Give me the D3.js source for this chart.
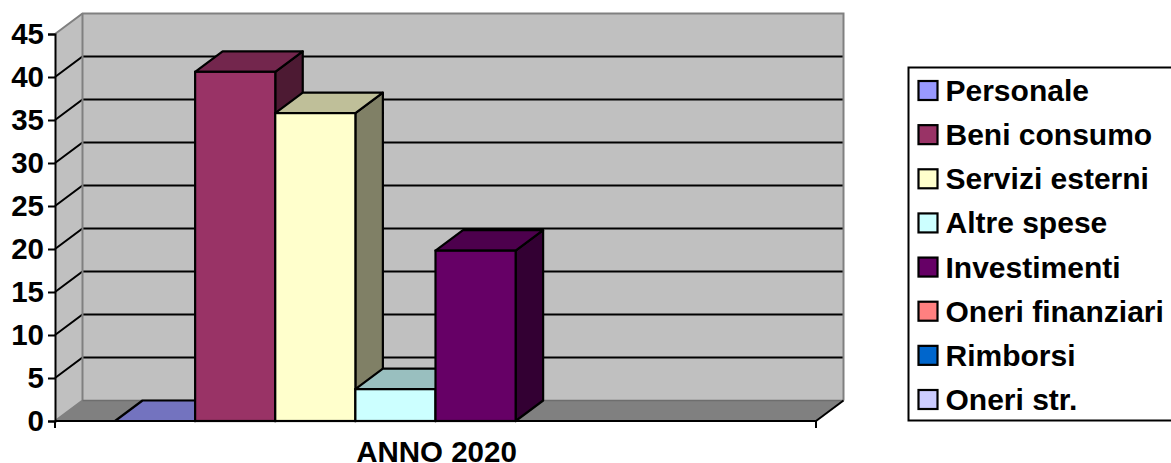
<!DOCTYPE html>
<html><head><meta charset="utf-8">
<script src="https://cdn.jsdelivr.net/npm/d3@7/dist/d3.min.js"></script>
<style>html,body{margin:0;padding:0;background:#fff}svg{display:block}text{font-family:"Liberation Sans",Arial,sans-serif;font-weight:bold;fill:#000}</style>
</head><body><svg id="c" width="1171" height="463"></svg>
<script>
const seriesNames=["Personale","Beni consumo","Servizi esterni","Altre spese","Investimenti","Oneri finanziari","Rimborsi","Oneri str."];
const seriesValues=[0,40.6,35.8,3.7,19.8,null,null,null];
const seriesColors=["#9999ff","#993366","#ffffcc","#ccffff","#660066","#ff8080","#0066cc","#ccccff"];
const categories=["ANNO 2020"];
const yTicks=[0,5,10,15,20,25,30,35,40,45];

const svg=d3.select("#c");
const depthX=27.5, depthY=-20.5;
const y=d3.scaleLinear().domain([0,45]).range([421,34]);
const x0=d3.scaleBand().domain(categories).range([55,816]);
const x1=d3.scalePoint().domain(d3.range(seriesNames.length+1)).range([115,756]);
const wallLeft=x0.range()[0], wallRight=x0.range()[1];
const poly=(pts)=>d3.line()(pts);
const X=(xv,d)=>xv+d*depthX, Y=(yv,d)=>yv+d*depthY;

svg.append("path").attr("d",poly([[wallLeft,y(0)],[wallLeft,y(45)],[X(wallLeft,1),Y(y(45),1)],[X(wallLeft,1),Y(y(0),1)]])+"Z").attr("fill","#c0c0c0");
svg.append("rect").attr("x",X(wallLeft,1)).attr("y",Y(y(45),1)).attr("width",wallRight-wallLeft).attr("height",y(0)-y(45)).attr("fill","#c0c0c0");
svg.append("path").attr("d",poly([[wallLeft,y(0)],[wallRight,y(0)],[X(wallRight,1),Y(y(0),1)],[X(wallLeft,1),Y(y(0),1)]])+"Z").attr("fill","#808080");
yTicks.filter(t=>t>0&&t<45).forEach(t=>{
  svg.append("path").attr("d",poly([[wallLeft,y(t)],[X(wallLeft,1),Y(y(t),1)],[X(wallRight,1),Y(y(t),1)]])).attr("fill","none").attr("stroke","#000").attr("stroke-width",2);
});
svg.append("path").attr("d",poly([[wallLeft,y(45)],[X(wallLeft,1),Y(y(45),1)],[X(wallRight,1),Y(y(45),1)],[X(wallRight,1),Y(y(0),1)]])).attr("fill","none").attr("stroke","#808080").attr("stroke-width",2);
svg.append("path").attr("d",poly([[X(wallLeft,1),Y(y(45),1)],[X(wallLeft,1),Y(y(0),1)],[wallLeft,y(0)]])).attr("fill","none").attr("stroke","#808080").attr("stroke-width",2);
svg.append("path").attr("d",poly([[X(wallLeft,1),Y(y(0),1)],[X(wallRight,1),Y(y(0),1)]])).attr("fill","none").attr("stroke","#6e6e6e").attr("stroke-width",1.5);
svg.append("path").attr("d",poly([[wallRight,y(0)],[X(wallRight,1),Y(y(0),1)]])).attr("fill","none").attr("stroke","#000").attr("stroke-width",2);

const shade=(c,k)=>{const r=d3.rgb(c);return d3.rgb(r.r*k,r.g*k,r.b*k).formatHex();};
const sw=2.2;
seriesValues.forEach((v,i)=>{
  if(v===null) return;
  const l=x1(i), r=x1(i+1), t=y(v), b=y(0);
  const g=svg.append("g");
  g.append("path").attr("d",poly([[r,t],[X(r,1),Y(t,1)],[X(r,1),Y(b,1)],[r,b]])+"Z").attr("fill",shade(seriesColors[i],0.5)).attr("stroke","#000").attr("stroke-width",sw).attr("stroke-linejoin","round");
  g.append("path").attr("d",poly([[l,t],[X(l,1),Y(t,1)],[X(r,1),Y(t,1)],[r,t]])+"Z").attr("fill",shade(seriesColors[i],0.75)).attr("stroke","#000").attr("stroke-width",sw).attr("stroke-linejoin","round");
  g.append("rect").attr("x",l).attr("y",t).attr("width",r-l).attr("height",b-t).attr("fill",seriesColors[i]).attr("stroke","#000").attr("stroke-width",sw);
});

const axisY=svg.append("g").attr("transform",`translate(${wallLeft},0)`).call(d3.axisLeft(y).tickValues(yTicks).tickSize(7).tickPadding(4));
axisY.select(".domain").attr("stroke","#000").attr("stroke-width",2);
axisY.selectAll(".tick line").attr("stroke","#000").attr("stroke-width",2);
axisY.selectAll("text").style("font-family",'"Liberation Sans",Arial,sans-serif').style("font-weight","bold").style("font-size","29.5px").attr("fill","#000");
svg.append("path").attr("d",poly([[wallLeft,y(0)],[wallRight,y(0)]])).attr("stroke","#000").attr("stroke-width",2.2);
x0.domain().forEach(c=>{
  [x0(c),x0(c)+x0.bandwidth()].forEach(px=>svg.append("line").attr("x1",px).attr("x2",px).attr("y1",y(0)).attr("y2",y(0)+7).attr("stroke","#000").attr("stroke-width",2));
  svg.append("text").attr("x",x0(c)+x0.bandwidth()/2+1).attr("y",461.5).attr("text-anchor","middle").attr("font-size","29.5px").text(c);
});

const lg=svg.append("g");
lg.append("rect").attr("x",908.5).attr("y",67.5).attr("width",300).attr("height",353).attr("fill","#fff").attr("stroke","#000").attr("stroke-width",2);
const rowY=d3.scalePoint().domain(d3.range(seriesNames.length)).range([90.5,399.5]);
seriesNames.forEach((n,i)=>{
  const cy=rowY(i);
  lg.append("rect").attr("x",918.5).attr("y",cy-9.5).attr("width",19).attr("height",19).attr("fill",seriesColors[i]).attr("stroke","#000").attr("stroke-width",2.2);
  lg.append("text").attr("x",945.5).attr("y",cy+10.5).attr("font-size","30px").text(n);
});
</script></body></html>
